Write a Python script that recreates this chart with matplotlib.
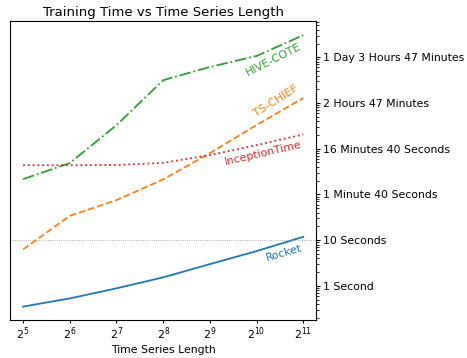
import matplotlib
matplotlib.use("Agg")
import matplotlib.pyplot as plt
import numpy as np

lengths = [2**5, 2**6, 2**7, 2**8, 2**9, 2**10, 2**11]
rocket = [0.35, 0.53, 0.88, 1.53, 2.98, 5.75, 11.8]
ts_chief = [6.25, 34, 75, 213, 800, 3300, 12900]
hive_cote = [216, 484, 3280, 31600, 61500, 107000, 306000]
inception = [435, 435, 440, 490, 725, 1200, 2050]

ytick_vals = [1, 10, 100, 1000, 10000, 100000]
ytick_labels = ["1 Second", "10 Seconds", "1 Minute 40 Seconds",
                "16 Minutes 40 Seconds", "2 Hours 47 Minutes",
                "1 Day 3 Hours 47 Minutes"]
xtick_labels = [r"$2^{%d}$" % i for i in range(5, 12)]

fig = plt.figure(figsize=(4.67, 3.58), dpi=100)
ax = fig.add_axes([0.0214, 0.106, 0.656, 0.835])

lw = 1.3
ax.plot(lengths, rocket, color="#1f77b4", ls="-", lw=lw)
ax.plot(lengths, ts_chief, color="#ff7f0e", ls="--", lw=lw)
ax.plot(lengths, hive_cote, color="#2ca02c", ls="-.", lw=lw)
ax.plot(lengths, inception, color="#d62728", ls=":", lw=lw)
ax.axhline(10, color="#999999", ls=":", lw=0.6)

ax.set_xscale("log", base=2)
ax.set_yscale("log")
ax.set_xlim(2**4.72, 2**11.28)
ax.set_ylim(0.178, 620000)
ax.set_xticks(lengths)
ax.set_xticklabels(xtick_labels)
ax.yaxis.tick_right()
ax.set_yticks(ytick_vals)
ax.set_yticklabels(ytick_labels)
ax.xaxis.set_minor_locator(matplotlib.ticker.NullLocator())
ax.tick_params(axis="y", which="major", labelsize=7.8, length=3, pad=2)
ax.tick_params(axis="y", which="minor", length=1.8)
ax.tick_params(axis="x", which="major", labelsize=7.8, length=2, pad=2)

fs = 8
ax.text(2**10.36, 91000, "HIVE-COTE", color="#2ca02c", rotation=27, ha="center", va="center", fontsize=fs)
ax.text(2**10.41, 11000, "TS-CHIEF", color="#ff7f0e", rotation=32, ha="center", va="center", fontsize=fs)
ax.text(2**10.15, 800, "InceptionTime", color="#d62728", rotation=13, ha="center", va="center", fontsize=fs)
ax.text(2**10.58, 5.2, "Rocket", color="#1f77b4", rotation=16, ha="center", va="center", fontsize=fs)

ax.set_title("Training Time vs Time Series Length", fontsize=9.5, pad=4)
ax.set_xlabel("Time Series Length", fontsize=7.8, labelpad=2)

fig.savefig("out.png", dpi=100)
